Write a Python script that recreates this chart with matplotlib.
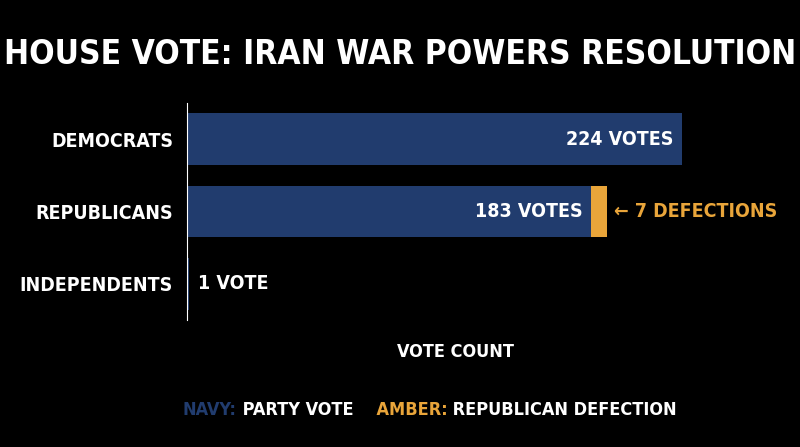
import matplotlib.pyplot as plt

parties = ["DEMOCRATS", "REPUBLICANS", "INDEPENDENTS"]
party_votes = [224, 183, 1]
defections = [0, 7, 0]
vote_labels = ["224 VOTES", "183 VOTES", "1 VOTE"]

navy = "#213c6e"
amber = "#e9a53a"
plt.rcParams['font.family'] = ['DejaVu Sans']
plt.rcParams['font.stretch'] = 'condensed'
plt.rcParams['font.weight'] = 'bold'

fig = plt.figure(figsize=(8, 4.47), dpi=100, facecolor="black")
ax = fig.add_axes([187/800, 1-320/447, 573/800, 217/447], facecolor="black")

ypos = [0, 1, 2]
ax.barh(ypos, party_votes, height=0.71, color=navy)
ax.barh(ypos, defections, left=party_votes, height=0.71, color=amber)
ax.set_xlim(0, 573/2.21)
ax.set_ylim(2.5, -0.5)
ax.set_yticks(ypos)
ax.set_yticklabels(parties, color="white", fontsize=14)
ax.tick_params(axis='y', length=0, pad=10)
ax.set_xticks([])
for s in ["top", "right", "bottom"]:
    ax.spines[s].set_visible(False)
ax.spines["left"].set_color("white")

fs = 14
ax.text(party_votes[0] - 4, 0, vote_labels[0], color="white", fontsize=fs, ha="right", va="center")
ax.text(party_votes[1] - 4, 1, vote_labels[1], color="white", fontsize=fs, ha="right", va="center")
ax.text(party_votes[2] + 4, 2, vote_labels[2], color="white", fontsize=fs, ha="left", va="center")
ax.text(party_votes[1] + defections[1] + 3, 1, "← 7 DEFECTIONS", color=amber, fontsize=fs, ha="left", va="center")

fig.text(0.5, 1-55/447, "HOUSE VOTE: IRAN WAR POWERS RESOLUTION", color="white", fontsize=24, ha="center", va="center")
fig.text(0.57, 1-352/447, "VOTE COUNT", color="white", fontsize=13, ha="center", va="center")

# legend: chain the pieces one after another
pieces = [("NAVY:", navy), (" PARTY VOTE", "white"), ("    AMBER:", amber), (" REPUBLICAN DEFECTION", "white")]
r = fig.canvas.get_renderer()
x = 183
ly = 1-410/447
for txt, col in pieces:
    t = fig.text(x/800, ly, txt, color=col, fontsize=13, va="center")
    x += t.get_window_extent(r).width

fig.savefig("out.png", facecolor="black")
